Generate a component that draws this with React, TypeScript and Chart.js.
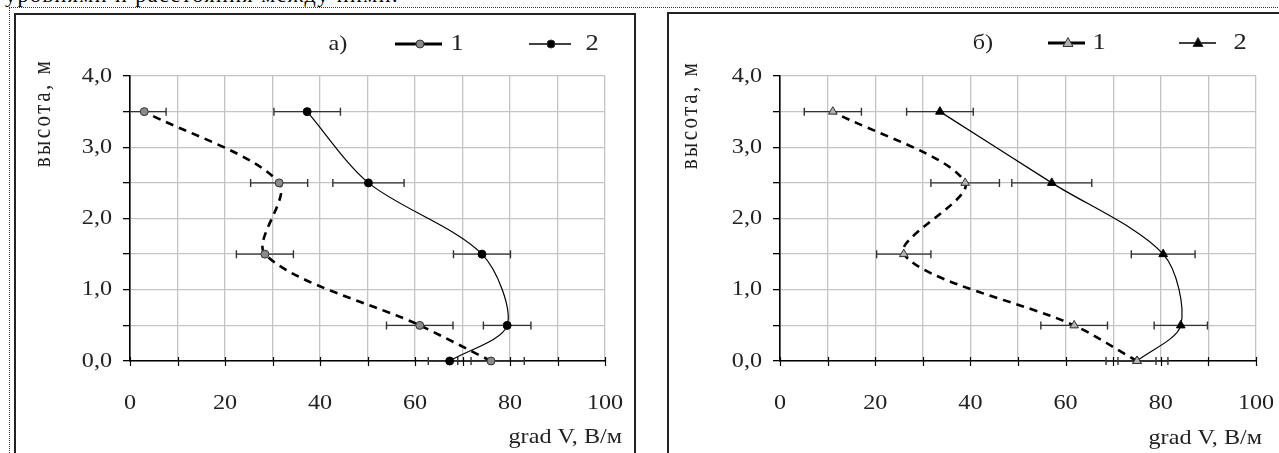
import React, { useEffect, useRef } from "react";
import { Chart, registerables } from "chart.js";

Chart.register(...registerables);

// ---------- data ----------
const heights = [0, 0.5, 1.5, 2.5, 3.5];

// panel a)
const a_series1 = [76, 61, 28.4, 31.4, 3];
const a_series2 = [67.3, 79.4, 74.1, 50.2, 37.3];
const a_err1 = [7, 7, 6, 6, 4.6];
const a_err2 = [4.5, 5, 6, 7.5, 7];

// panel б)
const b_series1 = [75, 61.8, 26, 38.9, 11.1];
const b_series2 = [75, 84.2, 80.5, 57.1, 33.6];
const b_err1 = [6.5, 7, 5.7, 7.2, 6];
const b_err2 = [4, 5.6, 6.7, 8.4, 7];

const xTicks = [0, 20, 40, 60, 80, 100];
const yTicks = ["0,0", "1,0", "2,0", "3,0", "4,0"];
const yTitle = "высота, м";
const xTitle = "grad V, В/м";
const legendLabels = ["1", "2"];

const FONT = "'Liberation Serif', 'Times New Roman', serif";
const SX = 1.15; // horizontal stretch of text in the reference

type PanelCfg = {
  s1: number[];
  s2: number[];
  e1: number[];
  e2: number[];
  tag: string;
  marker: "circle" | "triangle";
  w: number;
  h: number;
  plot: { l: number; r: number; t: number; b: number };
  legend: { tag: number; l1: [number, number, number]; t1: number; l2: [number, number, number]; t2: number; y: number };
  yTitlePos: [number, number];
  xTitlePos: [number, number];
};

function stretchedText(ctx: any, text: string, x: number, y: number, align: string) {
  ctx.save();
  ctx.translate(x, y);
  ctx.scale(SX, 1);
  ctx.textAlign = align;
  ctx.fillText(text, 0, 0);
  ctx.restore();
}

function makePanelChart(canvas: HTMLCanvasElement, c: PanelCfg) {
  const pts = (xs: number[]) => xs.map((x, i) => ({ x, y: heights[i] }));
  const yW = 60;
  const xH = 60;
  const s1Fill = c.marker === "circle" ? "#8a8a8a" : "#b0b0b0";

  const errPlugin = {
    id: "errbars",
    beforeDatasetsDraw(chart: any) {
      const ctx = chart.ctx;
      const xs = chart.scales.x;
      const ys = chart.scales.y;
      const ca = chart.chartArea;
      const errs = [c.e1, c.e2];
      const vals = [c.s1, c.s2];
      ctx.save();
      ctx.strokeStyle = "#333";
      ctx.lineWidth = 1.4;
      for (let d = 0; d < 2; d++) {
        for (let i = 0; i < heights.length; i++) {
          const y = ys.getPixelForValue(heights[i]);
          const lo = vals[d][i] - errs[d][i];
          const hi = vals[d][i] + errs[d][i];
          const x0 = Math.max(ca.left, xs.getPixelForValue(lo));
          const x1 = Math.min(ca.right, xs.getPixelForValue(hi));
          ctx.beginPath();
          ctx.moveTo(x0, y);
          ctx.lineTo(x1, y);
          if (lo >= 0) {
            ctx.moveTo(xs.getPixelForValue(lo), y - 4);
            ctx.lineTo(xs.getPixelForValue(lo), y + 4);
          }
          if (hi <= 100) {
            ctx.moveTo(xs.getPixelForValue(hi), y - 4);
            ctx.lineTo(xs.getPixelForValue(hi), y + 4);
          }
          ctx.stroke();
        }
      }
      ctx.restore();
    },
  };

  const decorPlugin = {
    id: "decor",
    afterDraw(chart: any) {
      const ctx = chart.ctx;
      const xs = chart.scales.x;
      const ys = chart.scales.y;
      const ca = chart.chartArea;
      ctx.save();
      // crossing ticks on x axis
      ctx.strokeStyle = "#000";
      ctx.lineWidth = 1.2;
      for (let v = 0; v <= 100; v += 10) {
        const x = Math.round(xs.getPixelForValue(v)) + 0.5;
        ctx.beginPath();
        ctx.moveTo(x, ca.bottom - 4);
        ctx.lineTo(x, ca.bottom + 5);
        ctx.stroke();
      }
      // tick labels
      ctx.fillStyle = "#222";
      ctx.font = `21px ${FONT}`;
      ctx.textBaseline = "middle";
      xTicks.forEach((v) => {
        stretchedText(ctx, String(v), xs.getPixelForValue(v), ca.bottom + 42, "center");
      });
      yTicks.forEach((lab, i) => {
        stretchedText(ctx, lab, ca.left - 18, ys.getPixelForValue(i), "right");
      });
      // axis titles
      stretchedText(ctx, xTitle, c.xTitlePos[0], c.xTitlePos[1], "right");
      ctx.save();
      ctx.translate(c.yTitlePos[0], c.yTitlePos[1]);
      ctx.rotate(-Math.PI / 2);
      ctx.scale(1, SX);
      ctx.textAlign = "center";
      (ctx as any).letterSpacing = "2.5px";
      ctx.fillText(yTitle, 0, 0);
      ctx.restore();
      // legend
      const L = c.legend;
      stretchedText(ctx, c.tag, L.tag, L.y, "center");
      ctx.strokeStyle = "#000";
      ctx.lineWidth = 3;
      ctx.beginPath();
      ctx.moveTo(L.l1[0], L.y);
      ctx.lineTo(L.l1[2], L.y);
      ctx.stroke();
      ctx.lineWidth = 1.3;
      ctx.beginPath();
      ctx.moveTo(L.l2[0], L.y);
      ctx.lineTo(L.l2[2], L.y);
      ctx.stroke();
      const drawMarker = (x: number, y: number, fill: string) => {
        ctx.fillStyle = fill;
        ctx.strokeStyle = "#333";
        ctx.lineWidth = 1;
        ctx.beginPath();
        if (c.marker === "circle") {
          ctx.arc(x, y, 4, 0, Math.PI * 2);
        } else {
          ctx.moveTo(x, y - 5.5);
          ctx.lineTo(x + 5, y + 3.5);
          ctx.lineTo(x - 5, y + 3.5);
          ctx.closePath();
        }
        ctx.fill();
        ctx.stroke();
      };
      drawMarker(L.l1[1], L.y, s1Fill);
      drawMarker(L.l2[1], L.y, "#000");
      ctx.fillStyle = "#222";
      ctx.font = `23px ${FONT}`;
      stretchedText(ctx, legendLabels[0], L.t1, L.y, "center");
      stretchedText(ctx, legendLabels[1], L.t2, L.y, "center");
      ctx.restore();
    },
  };

  return new Chart(canvas, {
    type: "scatter",
    data: {
      datasets: [
        {
          label: legendLabels[0],
          data: pts(c.s1),
          showLine: true,
          tension: 0.3,
          borderColor: "#000",
          borderWidth: 2.6,
          borderDash: [8, 6],
          pointStyle: c.marker,
          pointRadius: c.marker === "circle" ? 4 : 5,
          pointBackgroundColor: s1Fill,
          pointBorderColor: "#333",
          pointBorderWidth: 1,
          clip: false,
        } as any,
        {
          label: legendLabels[1],
          data: pts(c.s2),
          showLine: true,
          tension: 0.3,
          borderColor: "#000",
          borderWidth: 1.2,
          pointStyle: c.marker,
          pointRadius: c.marker === "circle" ? 4 : 5,
          pointBackgroundColor: "#000",
          pointBorderColor: "#000",
          pointBorderWidth: 1,
          clip: false,
        } as any,
      ],
    },
    options: {
      responsive: false,
      animation: false,
      devicePixelRatio: 1,
      layout: {
        padding: {
          left: c.plot.l - yW,
          right: c.w - c.plot.r,
          top: c.plot.t,
          bottom: c.h - c.plot.b - xH,
        },
      },
      plugins: {
        legend: { display: false },
        tooltip: { enabled: false },
      },
      scales: {
        x: {
          type: "linear",
          min: 0,
          max: 100,
          afterFit: (s: any) => {
            s.height = xH;
            s.paddingLeft = 0;
            s.paddingRight = 0;
          },
          ticks: {
            stepSize: 10,
            display: false,
            autoSkip: false,
          },
          grid: { color: "#c4c4c4", lineWidth: 1.3, drawTicks: false },
          border: { color: "#000", width: 1.6 },
        },
        y: {
          type: "linear",
          min: 0,
          max: 4,
          afterFit: (s: any) => {
            s.width = yW;
            s.paddingTop = 0;
            s.paddingBottom = 0;
          },
          ticks: {
            stepSize: 0.5,
            display: false,
            autoSkip: false,
          },
          grid: { color: "#c4c4c4", lineWidth: 1.3, tickColor: "#000", tickLength: 7 },
          border: { color: "#000", width: 1.6 },
        },
      },
    } as any,
    plugins: [errPlugin, decorPlugin],
  });
}

const panelA: PanelCfg = {
  s1: a_series1,
  s2: a_series2,
  e1: a_err1,
  e2: a_err2,
  tag: "а)",
  marker: "circle",
  w: 618,
  h: 438,
  plot: { l: 114, r: 589, t: 61, b: 346 },
  legend: { tag: 322, l1: [379, 404, 426], t1: 441, l2: [513, 535, 555], t2: 576, y: 29 },
  yTitlePos: [28, 98],
  xTitlePos: [606, 422],
};

const panelB: PanelCfg = {
  s1: b_series1,
  s2: b_series2,
  e1: b_err1,
  e2: b_err2,
  tag: "б)",
  marker: "triangle",
  w: 620,
  h: 439,
  plot: { l: 111, r: 587, t: 62, b: 347 },
  legend: { tag: 314, l1: [379, 399, 416], t1: 430, l2: [510, 529, 547], t2: 571, y: 29 },
  yTitlePos: [22, 101],
  xTitlePos: [593, 424],
};

function Panel({ cfg, left, top }: { cfg: PanelCfg; left: number; top: number }) {
  const ref = useRef<HTMLCanvasElement | null>(null);
  useEffect(() => {
    if (!ref.current) return;
    const ch = makePanelChart(ref.current, cfg);
    return () => ch.destroy();
  }, [cfg]);
  return (
    <div
      style={{
        position: "absolute",
        left,
        top,
        width: cfg.w,
        height: 470,
        border: "2px solid #222",
        background: "#fff",
      }}
    >
      <canvas ref={ref} width={cfg.w} height={cfg.h} style={{ display: "block", width: cfg.w, height: cfg.h }} />
    </div>
  );
}

export default function App() {
  return (
    <div
      style={{
        position: "fixed",
        left: 0,
        top: 0,
        width: 1279,
        height: 453,
        overflow: "hidden",
        background: "#fff",
      }}
    >
      <div
        style={{
          position: "absolute",
          left: 5,
          top: -16,
          fontFamily: FONT,
          fontSize: 22,
          lineHeight: "22px",
          letterSpacing: "1.5px",
          color: "#000",
          whiteSpace: "nowrap",
        }}
      >
        уровнями и расстояния между ними.
      </div>
      <div style={{ position: "absolute", left: 9, top: 7, width: 1279, height: 0, borderTop: "1px dotted #333" }} />
      <div style={{ position: "absolute", left: 9, top: 7, width: 0, height: 460, borderLeft: "1px dotted #333" }} />
      <Panel cfg={panelA} left={14} top={13} />
      <Panel cfg={panelB} left={667} top={12} />
    </div>
  );
}
